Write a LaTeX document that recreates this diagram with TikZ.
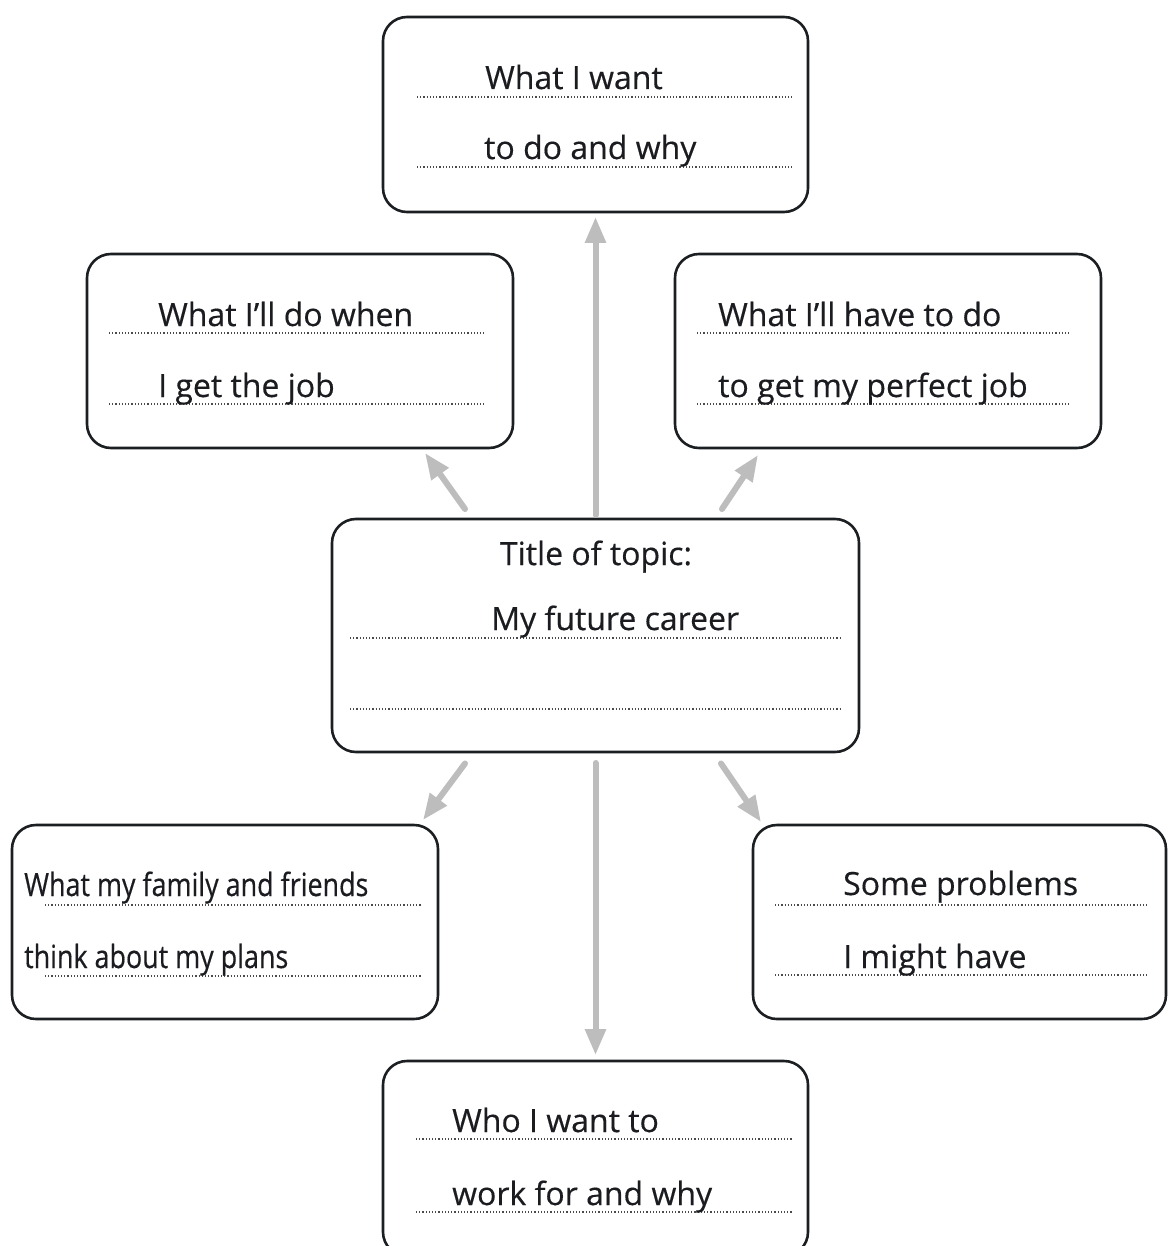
\documentclass[tikz,border=0pt]{standalone}
\usepackage{fontspec}
\setmainfont{Open Sans}[FakeBold=0.4]
\newfontfamily\condfont[FakeStretch=0.84,FakeBold=0.4]{Open Sans}
\usetikzlibrary{arrows.meta}
\definecolor{boxcol}{HTML}{1C1F22}
\definecolor{txtcol}{HTML}{1A1C20}
\definecolor{dotcol}{HTML}{4A4A4A}
\definecolor{arrcol}{HTML}{BDBDBD}
\begin{document}
\begin{tikzpicture}[x=1pt,y=-1pt,
  box/.style={draw=boxcol, line width=2.6pt, rounded corners=24pt, inner sep=0pt, outer sep=0pt, anchor=north west},
  lbl/.style={anchor=base west, inner sep=0pt, font=\fontsize{32}{38}\selectfont, text=txtcol},
  clbl/.style={lbl, font=\condfont\fontsize{32}{38}\selectfont},
  dotline/.style={draw=dotcol, line width=1.1pt, dash pattern=on 1.1pt off 2.1pt},
  arr/.style={draw=arrcol, line width=6pt, line cap=round, -{Triangle[length=26pt,width=20pt]}}]
\useasboundingbox (0,0) rectangle (1168,1246);
\clip (0,0) rectangle (1168,1246);
\fill[white] (0,0) rectangle (1168,1246);

% boxes
\node[box, minimum width=425pt, minimum height=195pt] (top) at (383,17) {};
\node[box, minimum width=426pt, minimum height=194pt] (ul) at (87,254) {};
\node[box, minimum width=426pt, minimum height=194pt] (ur) at (675,254) {};
\node[box, minimum width=527pt, minimum height=233pt] (center) at (332,519) {};
\node[box, minimum width=426pt, minimum height=194pt] (ll) at (12,825) {};
\node[box, minimum width=413pt, minimum height=194pt] (lr) at (753,825) {};
\node[box, minimum width=425pt, minimum height=195pt] (bot) at (383,1061) {};

% dotted lines
\draw[dotline] (417,97) -- (792,97);
\draw[dotline] (417,167) -- (792,167);
\draw[dotline] (109,333) -- (484,333);
\draw[dotline] (109,404) -- (484,404);
\draw[dotline] (697,333) -- (1071,333);
\draw[dotline] (697,404) -- (1071,404);
\draw[dotline] (350,638) -- (842,638);
\draw[dotline] (350,709) -- (842,709);
\draw[dotline] (45,905) -- (421,905);
\draw[dotline] (45,976) -- (421,976);
\draw[dotline] (775,905) -- (1149,905);
\draw[dotline] (775,975) -- (1149,975);
\draw[dotline] (416,1139) -- (792,1139);
\draw[dotline] (416,1212) -- (792,1212);

% texts
\node[lbl] (t1) at (485,89) {What I want};
\node[lbl] (t2) at (484,159) {to do and why};
\node[lbl] (ul1) at (158,326) {What I’ll do when};
\node[lbl] (ul2) at (158,397) {I get the job};
\node[lbl] (ur1) at (718,326) {What I’ll have to do};
\node[lbl] (ur2) at (718,397) {to get my perfect job};
\node[lbl, anchor=base] (c1) at (596,565) {Title of topic:};
\node[lbl] (c2) at (491,630) {My future career};
\node[clbl] (ll1) at (24,896) {What my family and friends};
\node[clbl] (ll2) at (24,968) {think about my plans};
\node[lbl] (lr1) at (843,895) {Some problems};
\node[lbl] (lr2) at (843,968) {I might have};
\node[lbl] (b1) at (452,1132) {Who I want to};
\node[lbl] (b2) at (452,1205) {work for and why};

% arrow end points
\coordinate (aulS) at ([xshift=133pt,yshift=10pt]center.north west);
\coordinate (aulE) at ([xshift=-88pt,yshift=-5pt]ul.south east);
\coordinate (aurS) at ([xshift=-137pt,yshift=10pt]center.north east);
\coordinate (aurE) at ([xshift=83pt,yshift=-7pt]ur.south west);
\coordinate (allS) at ([xshift=133pt,yshift=-11.5pt]center.south west);
\coordinate (allE) at ([xshift=-15pt,yshift=5pt]ll.north east);
\coordinate (alrS) at ([xshift=-138pt,yshift=-11.5pt]center.south east);
\coordinate (alrE) at ([xshift=8pt,yshift=3pt]lr.north west);

% arrows
\draw[arr, shorten <=4pt, shorten >=5pt] (center.north) -- (top.south);
\draw[arr, shorten <=11pt, shorten >=6pt] (center.south) -- (bot.north);
\draw[arr] (aulS) -- (aulE);
\draw[arr] (aurS) -- (aurE);
\draw[arr] (allS) -- (allE);
\draw[arr] (alrS) -- (alrE);
\end{tikzpicture}
\end{document}
